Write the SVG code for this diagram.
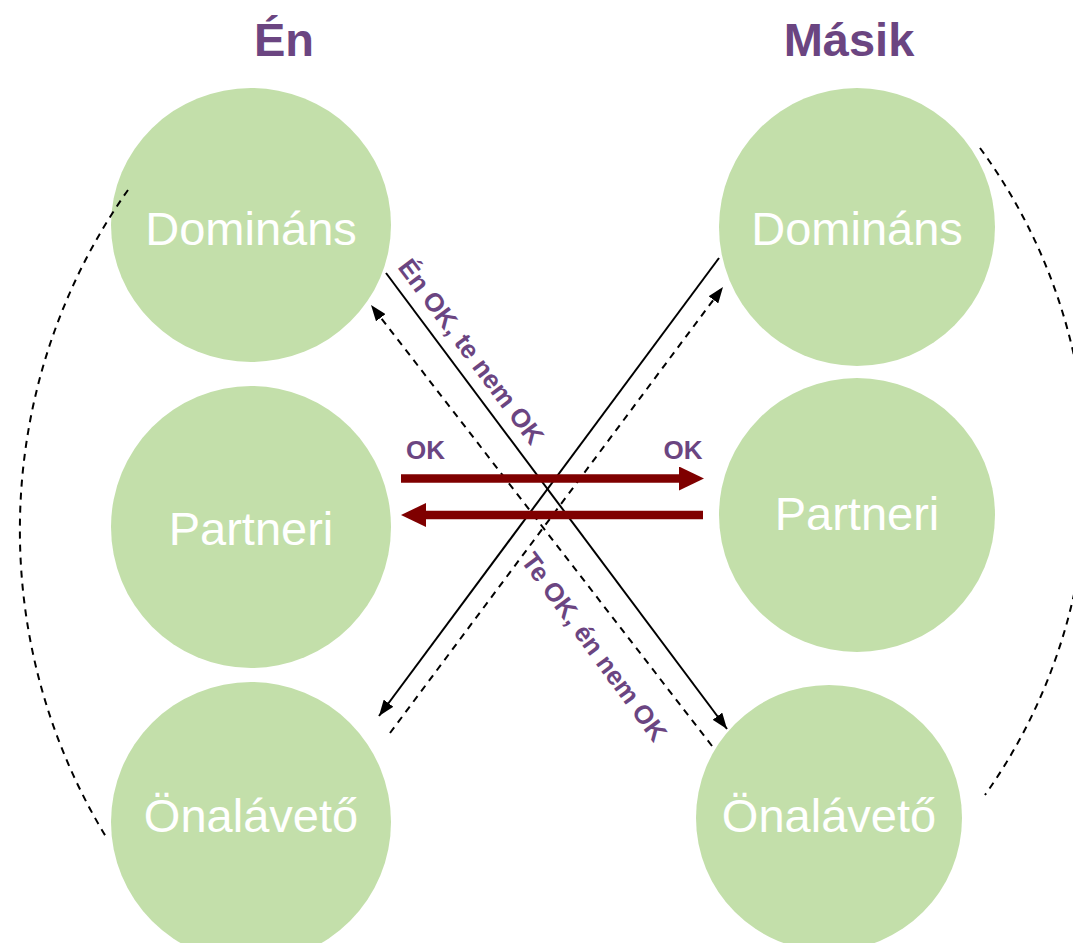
<svg xmlns="http://www.w3.org/2000/svg" width="1073" height="943" viewBox="0 0 1073 943">
<style>
.node{fill:#C3DFAA}
.nt{fill:#FFFFFF;font-family:"Liberation Sans",Arial,sans-serif;font-size:47px;text-anchor:middle}
.title{fill:#6B4581;font-family:"Liberation Sans",Arial,sans-serif;font-size:47px;font-weight:bold;text-anchor:middle}
.lbl{fill:#6B4581;font-family:"Liberation Sans",Arial,sans-serif;font-size:26px;font-weight:bold;text-anchor:middle}
.solid{stroke:#000;stroke-width:2;fill:none}
.dash{stroke:#000;stroke-width:2;fill:none;stroke-dasharray:7,6}
.thick{stroke:#7F0000;stroke-width:8.5;fill:none}
</style>
<defs>
<marker id="ah" viewBox="0 0 16 12" refX="16" refY="6" markerWidth="16" markerHeight="12" markerUnits="userSpaceOnUse" orient="auto">
<path d="M0,0 L16,6 L0,12 z" fill="#000"/>
</marker>
<marker id="big" viewBox="0 0 25 24" refX="0" refY="12" markerWidth="25" markerHeight="24" markerUnits="userSpaceOnUse" orient="auto">
<path d="M0,0 L25,12 L0,24 z" fill="#7F0000"/>
</marker>
</defs>
<rect width="1073" height="943" fill="#FFFFFF"/>

<g id="title-en"><text class="title" x="284" y="56">Én</text></g>
<g id="title-masik"><text class="title" x="849" y="56">Másik</text></g>

<g id="en-dominans"><ellipse class="node" cx="251" cy="225" rx="140" ry="137"/><text class="nt" x="251" y="245">Domináns</text></g>
<g id="en-partneri"><ellipse class="node" cx="251" cy="527" rx="140" ry="141"/><text class="nt" x="251" y="545">Partneri</text></g>
<g id="en-onalaveto"><ellipse class="node" cx="251" cy="822" rx="140" ry="140"/><text class="nt" x="251" y="832">Önalávető</text></g>
<g id="masik-dominans"><ellipse class="node" cx="857" cy="227" rx="138" ry="139"/><text class="nt" x="857" y="245">Domináns</text></g>
<g id="masik-partneri"><ellipse class="node" cx="857" cy="515" rx="138" ry="137"/><text class="nt" x="857" y="530">Partneri</text></g>
<g id="masik-onalaveto"><ellipse class="node" cx="829" cy="818" rx="133" ry="133"/><text class="nt" x="829" y="832">Önalávető</text></g>

<g id="connectors">
<path class="dash" d="M128,190 A589,589 0 0,0 108,840"/>
<path class="dash" d="M980,148 A553,553 0 0,1 985,795"/>
<line class="solid" x1="386" y1="273" x2="727" y2="729" marker-end="url(#ah)"/>
<line class="dash" x1="712" y1="746" x2="371" y2="305" marker-end="url(#ah)"/>
<line class="solid" x1="719" y1="258" x2="379" y2="716" marker-end="url(#ah)"/>
<line class="dash" x1="390" y1="733" x2="723" y2="287" marker-end="url(#ah)"/>
<line class="thick" x1="401" y1="478.5" x2="679" y2="478.5" marker-end="url(#big)"/>
<line class="thick" x1="703" y1="515" x2="426" y2="515" marker-end="url(#big)"/>
<text class="lbl" x="425.5" y="459">OK</text>
<text class="lbl" x="683" y="459">OK</text>
<text class="lbl" transform="translate(464,357) rotate(53.2)">Én OK, te nem OK</text>
<text class="lbl" transform="translate(587,652) rotate(53.8)">Te OK, én nem OK</text>
</g>
</svg>
